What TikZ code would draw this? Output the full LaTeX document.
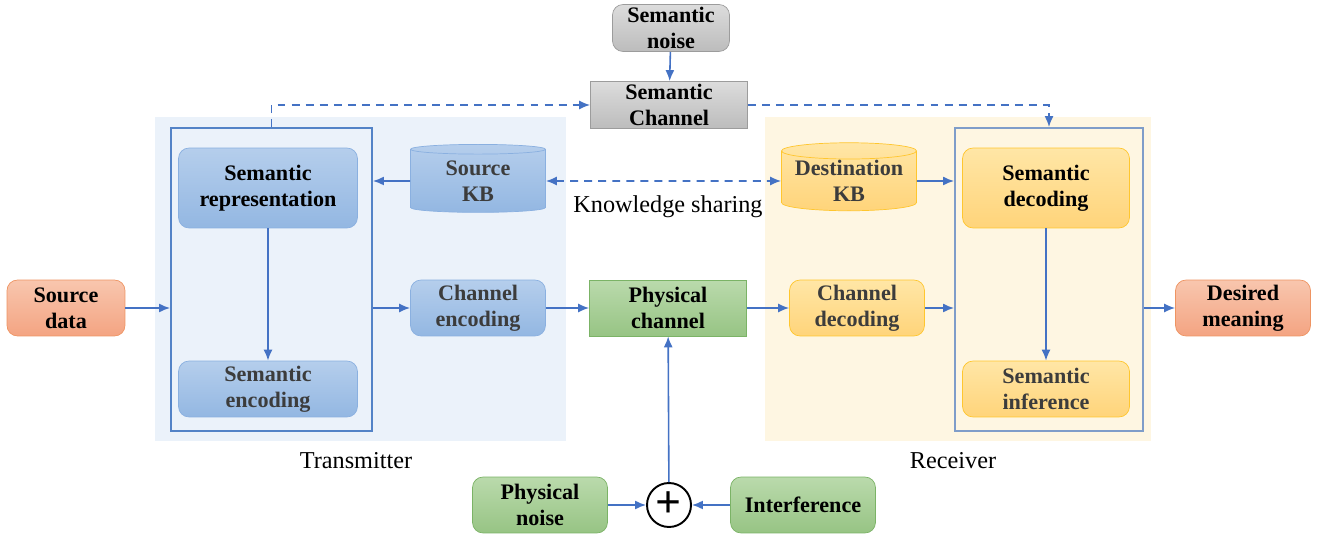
\documentclass[tikz,border=0pt]{standalone}
\usepackage{fontspec}
\setmainfont{Liberation Serif}
\usetikzlibrary{shapes.geometric,arrows.meta}

\definecolor{flowblue}{HTML}{4472C4}
\definecolor{txbg}{HTML}{EBF2FA}
\definecolor{rxbg}{HTML}{FEF6E2}
\definecolor{txline}{HTML}{5383C7}
\definecolor{rxline}{HTML}{7F9DC9}
\definecolor{darktext}{HTML}{3C3C3C}
\definecolor{bluetop}{HTML}{B5CEEC}
\definecolor{bluebot}{HTML}{93B7E2}
\definecolor{blueline}{HTML}{8AB0E0}
\definecolor{yellowtop}{HTML}{FFE6A6}
\definecolor{yellowbot}{HTML}{FFD47A}
\definecolor{yellowline}{HTML}{FFC62E}
\definecolor{orangetop}{HTML}{F8C6AE}
\definecolor{orangebot}{HTML}{F4A482}
\definecolor{orangeline}{HTML}{EE9462}
\definecolor{greentop}{HTML}{BADAAC}
\definecolor{greenbot}{HTML}{97C484}
\definecolor{greenline}{HTML}{7BB366}
\definecolor{graytop}{HTML}{DCDCDC}
\definecolor{graybot}{HTML}{BCBCBC}
\definecolor{grayline}{HTML}{9C9C9C}

\tikzset{
    box/.style={draw, rounded corners=6pt, align=center, inner sep=0pt,
        font=\bfseries\fontsize{12.6}{14.6}\selectfont, minimum height=1.12cm},
    bluebox/.style={box, draw=blueline, top color=bluetop, bottom color=bluebot},
    yellowbox/.style={box, draw=yellowline, top color=yellowtop, bottom color=yellowbot},
    orangebox/.style={box, draw=orangeline, top color=orangetop, bottom color=orangebot},
    greenbox/.style={box, draw=greenline, top color=greentop, bottom color=greenbot},
    graybox/.style={box, draw=grayline, top color=graytop, bottom color=graybot},
    kbbase/.style={cylinder, shape border rotate=90, aspect=0.15, draw, align=center,
        inner sep=0pt, font=\bfseries\fontsize{12.6}{14.6}\selectfont, text=darktext,
        minimum width=2.7cm, minimum height=1.36cm},
    unitframe/.style={draw=#1, line width=1.1pt, inner sep=0pt},
    flow/.style={->, draw=flowblue, line width=0.9pt},
    sharing/.style={dash pattern=on 4.5pt off 3.5pt},
    caption/.style={font=\fontsize{13.8}{16}\selectfont}
}

\begin{document}
\begin{tikzpicture}[x=0.02cm,y=-0.02cm,>={Latex[length=2.2mm,width=1.8mm]}]
    \useasboundingbox (0,0) rectangle (1327,536);

    % transmitter and receiver areas
    \fill[txbg] (155,117) rectangle (566,441);
    \fill[rxbg] (765,117) rectangle (1151,441);
    \node(tx)[unitframe=txline,minimum width=4.02cm,minimum height=6.06cm] at (271.5,279.5) {};
    \node(rx)[unitframe=rxline,minimum width=3.76cm,minimum height=6.06cm] at (1049,279.5) {};

    \node(srep)[bluebox,minimum width=3.58cm,minimum height=1.6cm] at (268,188) {Semantic\\representation};
    \node(senc)[bluebox,text=darktext,minimum width=3.58cm] at (268,389) {Semantic\\encoding};
    \node(skb)[kbbase,draw=blueline,top color=bluetop,bottom color=bluebot] at (478,181) {Source\\KB};
    \node(cenc)[bluebox,text=darktext,minimum width=2.7cm] at (478,308) {Channel\\encoding};

    \node(dkb)[kbbase,draw=yellowline,top color=yellowtop,bottom color=yellowbot] at (849,181) {Destination\\KB};
    \node(cdec)[yellowbox,text=darktext,minimum width=2.7cm] at (857,308) {Channel\\decoding};
    \node(sdec)[yellowbox,minimum width=3.34cm,minimum height=1.6cm] at (1046,188) {Semantic\\decoding};
    \node(sinf)[yellowbox,text=darktext,minimum width=3.34cm] at (1046,389) {Semantic\\inference};

    \node(sd)[orangebox,minimum width=2.36cm] at (66,308) {Source\\data};
    \node(dm)[orangebox,minimum width=2.7cm] at (1243,308) {Desired\\meaning};

    \node(snoise)[graybox,minimum width=2.34cm,minimum height=0.94cm] at (671,28) {Semantic\\noise};
    \node(sch)[graybox,rounded corners=0pt,minimum width=3.14cm,minimum height=0.94cm] at (669,105) {Semantic\\Channel};
    \node(pch)[greenbox,rounded corners=0pt,minimum width=3.14cm] at (668,308) {Physical\\channel};
    \node(pnoise)[greenbox,minimum width=2.7cm] at (540,505) {Physical\\noise};
    \node(intf)[greenbox,minimum width=2.9cm] at (803,505) {Interference};
    \node(plus)[circle,draw,line width=1.1pt,minimum size=0.88cm,inner sep=0pt,
        font=\bfseries\fontsize{26}{26}\selectfont] at (669,505) {+};

    \node(ks)[caption] at (668,207) {Knowledge sharing};
    \node(txl)[caption] at (356,461) {Transmitter};
    \node(rxl)[caption] at (953,461) {Receiver};

    \draw[flow] (sd) -- (tx.west |- sd);
    \draw[flow] (srep) -- (senc);
    \draw[flow] (skb) -- (tx.east |- skb);
    \draw[flow] (tx.east |- cenc) -- (cenc);
    \draw[flow] (cenc) -- (pch);
    \draw[flow] (pch) -- (cdec);
    \draw[flow] (cdec) -- (rx.west |- cdec);
    \draw[flow] (dkb) -- (rx.west |- dkb);
    \draw[flow] (sdec) -- (sinf);
    \draw[flow] (rx.east |- dm) -- (dm);
    \draw[flow] (snoise) -- (sch);
    \draw[flow] (plus) -- (pch);
    \draw[flow] (pnoise) -- (plus);
    \draw[flow] (intf) -- (plus);
    \draw[flow,sharing] (tx.north) |- (sch.west);
    \draw[flow,sharing] (sch.east) -| (rx.north);
    \draw[flow,sharing,<->] (skb) -- (dkb);
\end{tikzpicture}
\end{document}
